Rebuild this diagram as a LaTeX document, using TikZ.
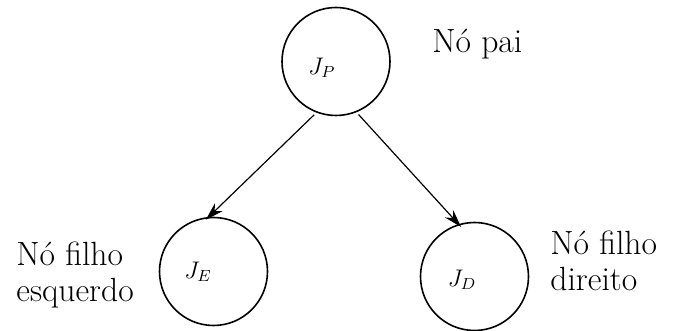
\documentclass[tikz,border=0pt]{standalone}
\usetikzlibrary{arrows.meta}
\begin{document}
\begin{tikzpicture}[x=0.5pt,y=-0.5pt,
  treenode/.style={draw, circle, line width=0.8pt, minimum size=54pt, inner sep=0pt},
  lbl/.style={font=\fontsize{16.8}{18}\selectfont, inner sep=0pt, align=left},
  jlbl/.style={font=\fontsize{12}{14}\selectfont, inner sep=0pt},
  edge/.style={line width=0.6pt, -{Stealth[length=9pt,width=5.5pt]}, shorten <=1.5pt, shorten >=-2pt}]
\useasboundingbox (0,0) rectangle (676,331);
\node[treenode] (P) at (336,61.5) {};
\node[treenode] (E) at (213.5,271.5) {};
\node[treenode] (D) at (474.5,276.5) {};
\node[jlbl] (jp) at (322,68) {$J_P$};
\node[jlbl] (je) at (198,272) {$J_E$};
\node[jlbl] (jd) at (462,280) {$J_D$};
\node[lbl, anchor=base west] (tp) at (432,53) {Nó pai};
\node[lbl, anchor=base west] (te) at (16,302) {Nó filho\\esquerdo};
\node[lbl, anchor=base west] (td) at (550,291) {Nó filho\\direito};
\draw[edge] (P.249) -- (E.95);
\draw[edge] (P.292) -- (D.107);
\end{tikzpicture}
\end{document}
